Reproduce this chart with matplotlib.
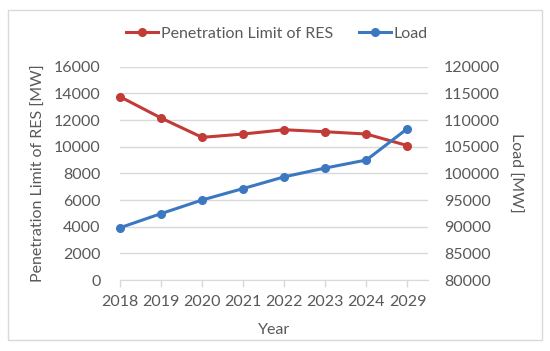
import matplotlib
matplotlib.use("Agg")
import matplotlib.pyplot as plt
from matplotlib.patches import Rectangle

years = ["2018", "2019", "2020", "2021", "2022", "2023", "2024", "2029"]
pen_limit = [13750, 12150, 10700, 10950, 11270, 11120, 10950, 10080]
load = [89800, 92450, 95000, 97150, 99350, 101000, 102500, 108400]

red = "#C23B36"
blue = "#3C78C2"
txt = "#595959"
grid = "#D9D9D9"
fs = 11.5

plt.rcParams["font.family"] = ["Lato", "DejaVu Sans"]
fig = plt.figure(figsize=(5.5, 3.51), dpi=100)
fig.patches.append(Rectangle((8/550, 11/351), 534/550, 330/351, transform=fig.transFigure,
                             fill=False, edgecolor=grid, linewidth=1.0))

ax = fig.add_axes([120/550, 71/351, 308/550, 213.3/351])
ax2 = ax.twinx()

x = list(range(len(years)))
l1, = ax.plot(x, pen_limit, color=red, lw=2.2, marker="o", ms=5.5, clip_on=False, zorder=3,
              label="Penetration Limit of RES")
l2, = ax2.plot(x, load, color=blue, lw=2.2, marker="o", ms=5.5, clip_on=False, zorder=3,
               label="Load")

ax.set_xlim(0, 7.5)
ax.set_ylim(0, 16000)
ax.set_yticks(range(0, 16001, 2000))
ax2.set_ylim(80000, 120000)
ax2.set_yticks(range(80000, 120001, 5000))
ax.set_xticks(x)
ax.set_xticklabels(years)

ax.grid(axis="y", color=grid, lw=1)
ax.set_axisbelow(True)
for a in (ax, ax2):
    for s in ("top", "left", "right", "bottom"):
        a.spines[s].set_visible(False)
ax.spines["bottom"].set_visible(True)
ax.spines["bottom"].set_color(grid)
ax.tick_params(axis="x", colors=grid, length=5, width=1, labelcolor=txt, labelsize=fs, pad=6)
ax.tick_params(axis="y", length=0, labelcolor=txt, labelsize=fs, pad=14)
ax2.tick_params(axis="y", length=0, labelcolor=txt, labelsize=fs, pad=11.5)

ax.set_xlabel("Year", color=txt, fontsize=fs, labelpad=10)
ax.set_ylabel("Penetration Limit of RES [MW]", color=txt, fontsize=fs, labelpad=6)
ax2.set_ylabel("Load [MW]", color=txt, fontsize=fs, rotation=270, labelpad=16)

fig.legend(handles=[l1, l2], loc="center", bbox_to_anchor=(277/550, 1 - 34/351), ncol=2,
           frameon=False, fontsize=fs, labelcolor=txt, handlelength=2.0, handletextpad=0.2,
           columnspacing=1.6)

fig.savefig("out.png", dpi=100)
